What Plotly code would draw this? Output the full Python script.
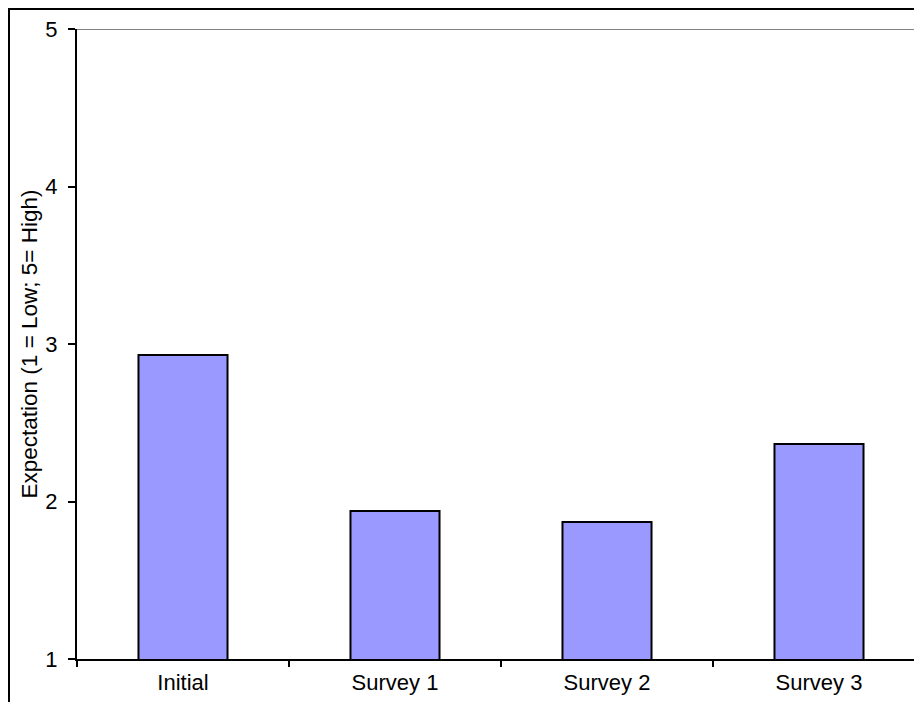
import plotly.graph_objects as go

categories = ["Initial", "Survey 1", "Survey 2", "Survey 3"]
values = [2.93, 1.94, 1.87, 2.365]
y_ticks = [1, 2, 3, 4, 5]

# page has an 8px body margin; compensate so the plot lands where the reference has it
OFF = 8
W, H = 922, 702
L, R, T, B = 77 - OFF, 0, 29 - OFF, H - (659 - OFF)
pw = W - L - R
ph = H - T - B

fig = go.Figure()
fig.add_trace(go.Bar(
    x=categories, y=values, base=0,
    width=0.42,
    marker=dict(color="#9999FF", line=dict(color="black", width=2)),
))

fig.update_layout(
    width=W, height=H,
    margin=dict(l=L, r=R, t=T, b=B),
    plot_bgcolor="white", paper_bgcolor="white",
    font=dict(family="Arial, Liberation Sans, sans-serif", color="black", size=22),
    showlegend=False,
    xaxis=dict(
        type="category", range=[-0.5, -0.5 + pw / 212.0],
        showline=True, linecolor="black", linewidth=2,
        ticks="outside", tickson="boundaries", ticklen=6, tickwidth=2, tickcolor="black",
        showgrid=False, tickfont=dict(size=22), ticklabelstandoff=3,
    ),
    yaxis=dict(
        range=[1, 5], tickvals=y_ticks,
        showline=True, linecolor="black", linewidth=2,
        ticks="outside", ticklen=7, tickwidth=2, tickcolor="black",
        showgrid=False, zeroline=False, tickfont=dict(size=22), ticklabelstandoff=6,
        title=dict(text="Expectation (1 = Low; 5= High)", font=dict(size=22.5), standoff=1),
    ),
    shapes=[
        dict(type="line", xref="paper", yref="y", x0=0, x1=1.02, y0=5, y1=5,
             line=dict(color="#808080", width=2)),
        dict(type="rect", xref="paper", yref="paper",
             x0=(9 - OFF - L) / pw, x1=1.2, y0=-0.3, y1=(H - B - 1) / ph,
             line=dict(color="black", width=2), fillcolor="rgba(0,0,0,0)"),
    ],
)

fig.write_html("out.html")
